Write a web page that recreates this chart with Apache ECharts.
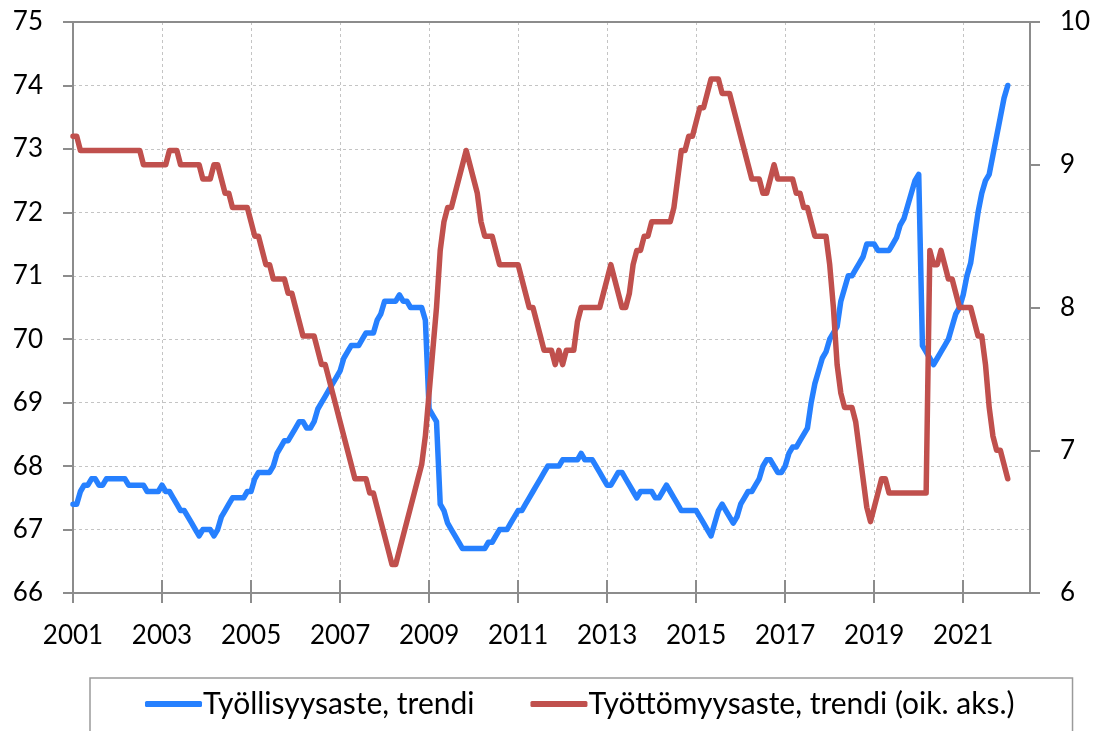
<!DOCTYPE html>
<html>
<head>
<meta charset="utf-8">
<title>Työllisyysaste ja työttömyysaste, trendi</title>
<script src="https://cdn.jsdelivr.net/npm/echarts@6/dist/echarts.min.js"></script>
<style>
  html, body { margin: 0; padding: 0; background: #ffffff; }
  #chart { width: 1095px; height: 731px; }
</style>
</head>
<body>
<div id="chart"></div>
<script>
// Monthly trend series, January 2001 – January 2022 (one row per year).
const startYear = 2001;
const axisMonths = 259; // category axis runs to mid-2022

const employmentRate = [
  67.4, 67.4, 67.6, 67.7, 67.7, 67.8, 67.8, 67.7, 67.7, 67.8, 67.8, 67.8, // 2001
  67.8, 67.8, 67.8, 67.7, 67.7, 67.7, 67.7, 67.7, 67.6, 67.6, 67.6, 67.6, // 2002
  67.7, 67.6, 67.6, 67.5, 67.4, 67.3, 67.3, 67.2, 67.1, 67.0, 66.9, 67.0, // 2003
  67.0, 67.0, 66.9, 67.0, 67.2, 67.3, 67.4, 67.5, 67.5, 67.5, 67.5, 67.6, // 2004
  67.6, 67.8, 67.9, 67.9, 67.9, 67.9, 68.0, 68.2, 68.3, 68.4, 68.4, 68.5, // 2005
  68.6, 68.7, 68.7, 68.6, 68.6, 68.7, 68.9, 69.0, 69.1, 69.2, 69.3, 69.4, // 2006
  69.5, 69.7, 69.8, 69.9, 69.9, 69.9, 70.0, 70.1, 70.1, 70.1, 70.3, 70.4, // 2007
  70.6, 70.6, 70.6, 70.6, 70.7, 70.6, 70.6, 70.5, 70.5, 70.5, 70.5, 70.3, // 2008
  68.9, 68.8, 68.7, 67.4, 67.3, 67.1, 67.0, 66.9, 66.8, 66.7, 66.7, 66.7, // 2009
  66.7, 66.7, 66.7, 66.7, 66.8, 66.8, 66.9, 67.0, 67.0, 67.0, 67.1, 67.2, // 2010
  67.3, 67.3, 67.4, 67.5, 67.6, 67.7, 67.8, 67.9, 68.0, 68.0, 68.0, 68.0, // 2011
  68.1, 68.1, 68.1, 68.1, 68.1, 68.2, 68.1, 68.1, 68.1, 68.0, 67.9, 67.8, // 2012
  67.7, 67.7, 67.8, 67.9, 67.9, 67.8, 67.7, 67.6, 67.5, 67.6, 67.6, 67.6, // 2013
  67.6, 67.5, 67.5, 67.6, 67.7, 67.6, 67.5, 67.4, 67.3, 67.3, 67.3, 67.3, // 2014
  67.3, 67.2, 67.1, 67.0, 66.9, 67.1, 67.3, 67.4, 67.3, 67.2, 67.1, 67.2, // 2015
  67.4, 67.5, 67.6, 67.6, 67.7, 67.8, 68.0, 68.1, 68.1, 68.0, 67.9, 67.9, // 2016
  68.0, 68.2, 68.3, 68.3, 68.4, 68.5, 68.6, 69.0, 69.3, 69.5, 69.7, 69.8, // 2017
  70.0, 70.1, 70.2, 70.6, 70.8, 71.0, 71.0, 71.1, 71.2, 71.3, 71.5, 71.5, // 2018
  71.5, 71.4, 71.4, 71.4, 71.4, 71.5, 71.6, 71.8, 71.9, 72.1, 72.3, 72.5, // 2019
  72.6, 69.9, 69.8, 69.7, 69.6, 69.7, 69.8, 69.9, 70.0, 70.2, 70.4, 70.5, // 2020
  70.7, 71.0, 71.2, 71.6, 72.0, 72.3, 72.5, 72.6, 72.9, 73.2, 73.5, 73.8, // 2021
  74.0                                                                    // 2022
];

const unemploymentRate = [
  9.2, 9.2, 9.1, 9.1, 9.1, 9.1, 9.1, 9.1, 9.1, 9.1, 9.1, 9.1, // 2001
  9.1, 9.1, 9.1, 9.1, 9.1, 9.1, 9.1, 9.0, 9.0, 9.0, 9.0, 9.0, // 2002
  9.0, 9.0, 9.1, 9.1, 9.1, 9.0, 9.0, 9.0, 9.0, 9.0, 9.0, 8.9, // 2003
  8.9, 8.9, 9.0, 9.0, 8.9, 8.8, 8.8, 8.7, 8.7, 8.7, 8.7, 8.7, // 2004
  8.6, 8.5, 8.5, 8.4, 8.3, 8.3, 8.2, 8.2, 8.2, 8.2, 8.1, 8.1, // 2005
  8.0, 7.9, 7.8, 7.8, 7.8, 7.8, 7.7, 7.6, 7.6, 7.5, 7.4, 7.3, // 2006
  7.2, 7.1, 7.0, 6.9, 6.8, 6.8, 6.8, 6.8, 6.7, 6.7, 6.6, 6.5, // 2007
  6.4, 6.3, 6.2, 6.2, 6.3, 6.4, 6.5, 6.6, 6.7, 6.8, 6.9, 7.1, // 2008
  7.4, 7.7, 8.0, 8.4, 8.6, 8.7, 8.7, 8.8, 8.9, 9.0, 9.1, 9.0, // 2009
  8.9, 8.8, 8.6, 8.5, 8.5, 8.5, 8.4, 8.3, 8.3, 8.3, 8.3, 8.3, // 2010
  8.3, 8.2, 8.1, 8.0, 8.0, 7.9, 7.8, 7.7, 7.7, 7.7, 7.6, 7.7, // 2011
  7.6, 7.7, 7.7, 7.7, 7.9, 8.0, 8.0, 8.0, 8.0, 8.0, 8.0, 8.1, // 2012
  8.2, 8.3, 8.2, 8.1, 8.0, 8.0, 8.1, 8.3, 8.4, 8.4, 8.5, 8.5, // 2013
  8.6, 8.6, 8.6, 8.6, 8.6, 8.6, 8.7, 8.9, 9.1, 9.1, 9.2, 9.2, // 2014
  9.3, 9.4, 9.4, 9.5, 9.6, 9.6, 9.6, 9.5, 9.5, 9.5, 9.4, 9.3, // 2015
  9.2, 9.1, 9.0, 8.9, 8.9, 8.9, 8.8, 8.8, 8.9, 9.0, 8.9, 8.9, // 2016
  8.9, 8.9, 8.9, 8.8, 8.8, 8.7, 8.7, 8.6, 8.5, 8.5, 8.5, 8.5, // 2017
  8.3, 8.0, 7.6, 7.4, 7.3, 7.3, 7.3, 7.2, 7.0, 6.8, 6.6, 6.5, // 2018
  6.6, 6.7, 6.8, 6.8, 6.7, 6.7, 6.7, 6.7, 6.7, 6.7, 6.7, 6.7, // 2019
  6.7, 6.7, 6.7, 8.4, 8.3, 8.3, 8.4, 8.3, 8.2, 8.2, 8.1, 8.0, // 2020
  8.0, 8.0, 8.0, 7.9, 7.8, 7.8, 7.6, 7.3, 7.1, 7.0, 7.0, 6.9, // 2021
  6.8                                                         // 2022
];

const seriesNames = ['Työllisyysaste, trendi', 'Työttömyysaste, trendi (oik. aks.)'];
const leftTicks = { min: 66, max: 75, step: 1 };
const rightTicks = { min: 6, max: 10, step: 1 };
const labelEveryMonths = 24;

// Month categories "YYYY-MM"
const months = [];
for (let i = 0; i < axisMonths; i++) {
  const y = startYear + Math.floor(i / 12);
  const m = (i % 12) + 1;
  months.push(y + '-' + (m < 10 ? '0' + m : m));
}

const FONT = 'Lato, "Open Sans", "Liberation Sans", sans-serif';
const AXIS_GREY = '#8c8c8c';
const GRID_GREY = '#c4c4c4';
const showEvery = (idx) => idx % labelEveryMonths === 0;

const chart = echarts.init(document.getElementById('chart'), null, { renderer: 'canvas' });

chart.setOption({
  animation: false,
  backgroundColor: '#ffffff',
  textStyle: { fontFamily: FONT },
  grid: { left: 73, right: 65, top: 22, bottom: 138, containLabel: false },
  legend: {
    data: seriesNames,
    left: 90,
    top: 678,
    orient: 'horizontal',
    icon: 'roundRect',
    itemWidth: 57,
    itemHeight: 6,
    itemGap: 56,
    padding: [11, 58, 60, 55],
    borderColor: '#9a9a9a',
    borderWidth: 1.5,
    borderRadius: 0,
    textStyle: { fontFamily: FONT, fontSize: 30, color: '#000', padding: [0, 0, 0, -4] }
  },
  xAxis: [
    {
      type: 'category',
      data: months,
      boundaryGap: false,
      position: 'bottom',
      axisLine: { onZero: false, lineStyle: { color: AXIS_GREY, width: 2 } },
      axisTick: { show: true, interval: showEvery, length: 10, lineStyle: { color: AXIS_GREY, width: 2 } },
      axisLabel: {
        interval: showEvery,
        margin: 30,
        fontSize: 26,
        color: '#000',
        fontFamily: FONT,
        formatter: (v) => v.slice(0, 4)
      },
      splitLine: {
        show: true,
        interval: showEvery,
        lineStyle: { color: GRID_GREY, width: 1, type: [3, 3] }
      }
    },
    {
      // plot-area top edge
      type: 'category',
      data: months,
      boundaryGap: false,
      position: 'top',
      axisLine: { onZero: false, lineStyle: { color: AXIS_GREY, width: 2 } },
      axisTick: { show: false },
      axisLabel: { show: false },
      splitLine: { show: false }
    },
    {
      // upward half of the crossing year ticks
      type: 'category',
      data: months,
      boundaryGap: false,
      position: 'bottom',
      axisLine: { show: false, onZero: false },
      axisTick: { show: true, inside: true, interval: showEvery, length: 13, lineStyle: { color: AXIS_GREY, width: 2 } },
      axisLabel: { show: false },
      splitLine: { show: false }
    }
  ],
  yAxis: [
    {
      type: 'value',
      position: 'left',
      min: leftTicks.min,
      max: leftTicks.max,
      interval: leftTicks.step,
      axisLine: { show: true, lineStyle: { color: AXIS_GREY, width: 2 } },
      axisTick: { show: true, length: 10, lineStyle: { color: AXIS_GREY, width: 2 } },
      axisLabel: { margin: 30, fontSize: 26, color: '#000', fontFamily: FONT },
      splitLine: { show: true, lineStyle: { color: GRID_GREY, width: 1, type: [3, 3] } }
    },
    {
      type: 'value',
      position: 'right',
      min: rightTicks.min,
      max: rightTicks.max,
      interval: rightTicks.step,
      axisLine: { show: true, lineStyle: { color: AXIS_GREY, width: 2 } },
      axisTick: { show: true, length: 10, lineStyle: { color: AXIS_GREY, width: 2 } },
      axisLabel: { margin: 30, fontSize: 26, color: '#000', fontFamily: FONT },
      splitLine: { show: false }
    }
  ],
  series: [
    {
      name: seriesNames[0],
      type: 'line',
      xAxisIndex: 0,
      yAxisIndex: 0,
      data: employmentRate,
      showSymbol: false,
      symbol: 'none',
      smooth: false,
      color: '#2680ff',
      lineStyle: { color: '#2680ff', width: 5.5, cap: 'round', join: 'round' },
      z: 3
    },
    {
      name: seriesNames[1],
      type: 'line',
      xAxisIndex: 0,
      yAxisIndex: 1,
      data: unemploymentRate,
      showSymbol: false,
      symbol: 'none',
      smooth: false,
      color: '#c0504d',
      lineStyle: { color: '#c0504d', width: 5.5, cap: 'round', join: 'round' },
      z: 4
    }
  ]
});
</script>
</body>
</html>
